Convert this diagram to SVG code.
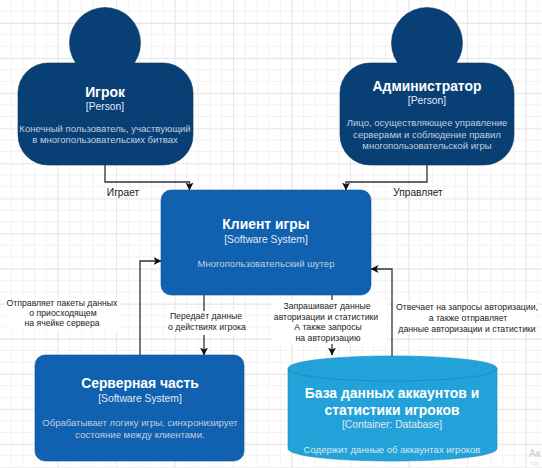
<svg xmlns="http://www.w3.org/2000/svg" width="542" height="468" viewBox="0 0 542 468">
<style>
text{font-family:"Liberation Sans",Arial,sans-serif;text-anchor:middle}
.t{font-weight:bold;fill:#fff;font-size:13.9px}
.s{fill:#e4e8f0;font-size:10.3px}
.d{fill:#c4cedd;font-size:9.55px}
.l{fill:#222;font-size:8.7px}
.m{fill:#222;font-size:10.2px}
.c{fill:none;stroke:#333;stroke-width:1.3}
.p{fill:#083f75;stroke:#0b3560;stroke-width:.6}
.b{fill:#1061b0;stroke:#0d5499;stroke-width:.6}
.g1{stroke:#f2f2f2;stroke-width:1}
.g2{stroke:#e8e8e8;stroke-width:1}
</style>
<defs>
<marker id="a" markerWidth="9" markerHeight="9" refX="7.5" refY="4" orient="auto" markerUnits="userSpaceOnUse"><path d="M0 0L8 4L0 8L2 4Z" fill="#111"/></marker>
<pattern id="gm" width="11.7" height="11.7" patternUnits="userSpaceOnUse" x="0" y="0"><path d="M11.2 0V11.7M0 11.2H11.7" class="g1" fill="none"/></pattern>
<pattern id="gM" width="58.5" height="35.1" patternUnits="userSpaceOnUse" x="0" y="24"><path d="M58 0V35.1M0 34.6H58.5" class="g2" fill="none"/></pattern>
</defs>
<rect width="542" height="468" fill="#fff"/>
<rect width="542" height="468" fill="url(#gm)"/>
<rect width="542" height="468" fill="url(#gM)"/>
<g id="connectors">
<path class="c" marker-end="url(#a)" d="M105 165V182H189.500V190"/>
<path class="c" marker-end="url(#a)" d="M427 165V182H346V190"/>
<path class="c" marker-end="url(#a)" d="M140 355V261H161"/>
<path class="c" marker-end="url(#a)" d="M204 295V355"/>
<path class="c" marker-end="url(#a)" d="M332 295V355"/>
<path class="c" marker-end="url(#a)" d="M392 356V269H371"/>
</g>
<g id="labels">
<text class="m" x="123" y="196">Играет</text>
<text class="m" x="418" y="196">Управляет</text>
<rect x="5" y="297" width="115" height="34" fill="#fff"/>
<text class="l" x="62" y="306">Отправляет пакеты данных</text>
<text class="l" x="63" y="316">о приосходящем</text>
<text class="l" x="62" y="326">на ячейке сервера</text>
<rect x="167" y="311" width="76" height="24" fill="#fff"/>
<text class="l" x="206" y="319">Передаёт данные</text>
<text class="l" x="207" y="330">о действиях игрока</text>
<rect x="273" y="300" width="114" height="44" fill="#fff"/>
<text class="l" x="327" y="309">Запрашивает данные</text>
<text class="l" x="326" y="320">авторизации и статистики</text>
<text class="l" x="328" y="330">А также запросы</text>
<text class="l" x="328" y="341">на авторизацию</text>
<rect x="395" y="302" width="142" height="32" fill="#fff"/>
<text class="l" x="467" y="310">Отвечает на запросы авторизации,</text>
<text class="l" x="468" y="321">а также отправляет</text>
<text class="l" x="467" y="332">данные авторизации и статистики</text>
</g>
<g id="igrok">
<rect class="p" x="18" y="63" width="175" height="102" rx="30"/>
<circle class="p" cx="105" cy="43" r="35.5"/>
<text class="t" x="105" y="97">Игрок</text>
<text class="s" x="105" y="110">[Person]</text>
<text class="d" x="105" y="132">Конечный пользователь, участвующий</text>
<text class="d" x="105" y="143">в многопользовательских битвах</text>
</g>
<g id="admin">
<rect class="p" x="340" y="63" width="174" height="102" rx="30"/>
<circle class="p" cx="427" cy="43" r="35.5"/>
<text class="t" x="427" y="91">Администратор</text>
<text class="s" x="427" y="104">[Person]</text>
<text class="d" x="427" y="126">Лицо, осуществляющее управление</text>
<text class="d" x="427" y="138">серверами и соблюдение правил</text>
<text class="d" x="427" y="149">многопользовательской игры</text>
</g>
<g id="client">
<rect class="b" x="161" y="190" width="210" height="105" rx="10"/>
<text class="t" x="266" y="229">Клиент игры</text>
<text class="s" x="266" y="243">[Software System]</text>
<text class="d" x="266" y="267">Многопользовательский шутер</text>
</g>
<g id="server">
<rect class="b" x="35" y="355" width="209" height="106" rx="10"/>
<text class="t" x="140" y="388">Серверная часть</text>
<text class="s" x="140" y="402">[Software System]</text>
<text class="d" x="140" y="426">Обрабатывает логику игры, синхронизирует</text>
<text class="d" x="140" y="438">состояние между клиентами.</text>
</g>
<g id="database">
<path d="M288 368.500C288 361 335 356 392.500 356S497 361 497 368.500V448.500C497 456 450 461 392.500 461S288 456 288 448.500Z" fill="#23a2d9" stroke="#1c8dbd" stroke-width=".6"/>
<path d="M288 368.500C288 376 335 381 392.500 381S497 376 497 368.500" fill="none" stroke="#1a86b5" stroke-width=".8"/>
<text class="t" x="392" y="398">База данных аккаунтов и</text>
<text class="t" x="392" y="415">статистики игроков</text>
<text class="s" x="392" y="428">[Container: Database]</text>
<text class="d" x="392" y="453" style="fill:#d8e8f2">Содержит данные об аккаунтах игроков</text>
</g>
<text x="529" y="457" style="text-anchor:start;fill:#c8c8c8;font-size:10.5px">Ак</text>
<text x="531" y="466" style="text-anchor:start;fill:#d8d8d8;font-size:7px">Чт</text>
</svg>
